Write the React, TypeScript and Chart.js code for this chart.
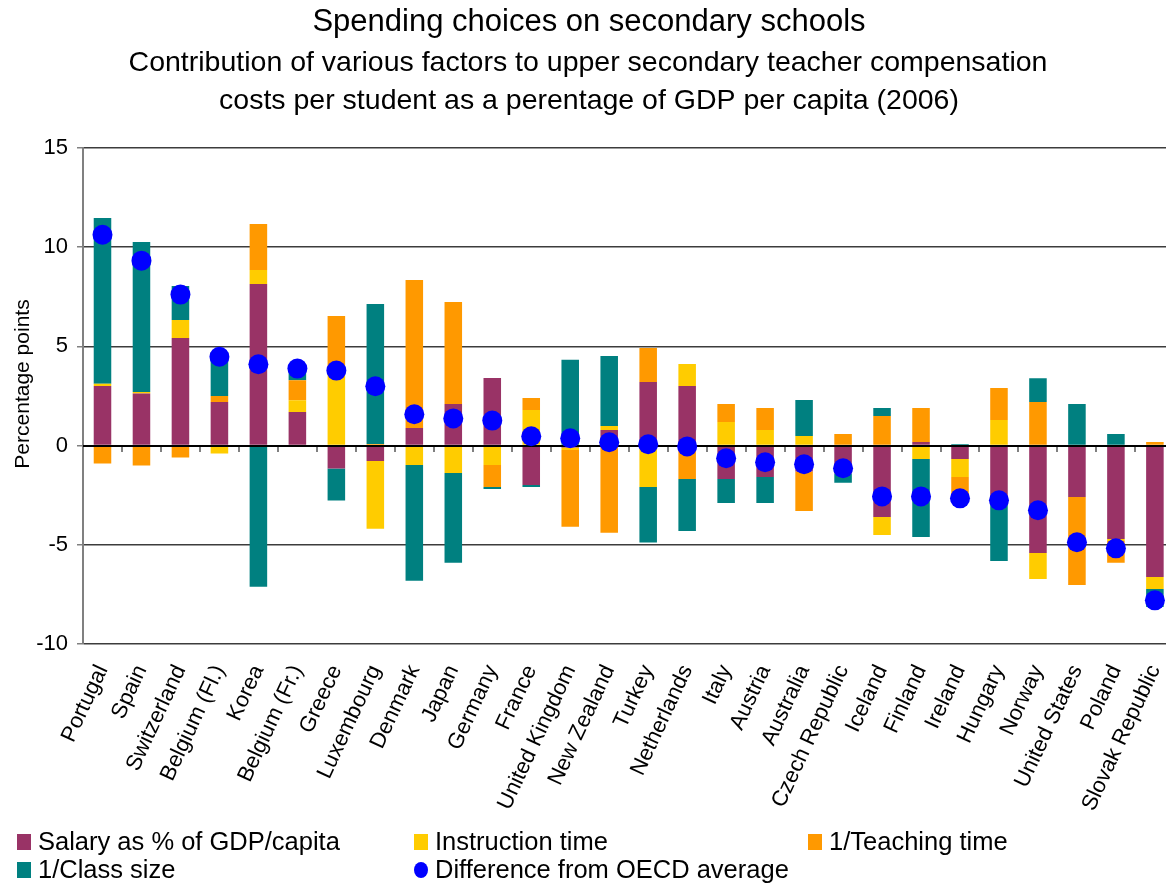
import React, { useEffect, useRef } from 'react';
import { Chart, registerables } from 'chart.js';

Chart.register(...registerables);

const countries = [
  'Portugal', 'Spain', 'Switzerland', 'Belgium (Fl.)', 'Korea', 'Belgium (Fr.)', 'Greece',
  'Luxembourg', 'Denmark', 'Japan', 'Germany', 'France', 'United Kingdom', 'New Zealand',
  'Turkey', 'Netherlands', 'Italy', 'Austria', 'Australia', 'Czech Republic', 'Iceland',
  'Finland', 'Ireland', 'Hungary', 'Norway', 'United States', 'Poland', 'Slovak Republic',
];

const salary = [3.0, 2.62, 5.42, 2.2, 8.14, 1.69, -1.16, -0.78, 0.89, 2.1, 3.41, -1.99, -0.1, 0.79, 3.21, 3.0, -1.68, -1.58, -1.3, -1.4, -3.6, 0.18, -0.68, -2.74, -5.41, -2.59, -4.71, -6.62];
const instruction = [0.12, 0.08, 0.91, -0.4, 0.71, 0.6, 3.65, -3.41, -0.98, -1.38, -0.98, 1.8, -0.12, 0.2, -2.09, 1.11, 1.19, 0.79, 0.48, 0, -0.91, -0.68, -0.9, 1.29, -1.31, 0, -0.1, -0.61];
const teaching = [-0.9, -1.0, -0.6, 0.3, 2.32, 1.0, 2.88, 0.08, 7.46, 5.14, -1.11, 0.6, -3.87, -4.39, 1.71, -1.68, 0.91, 1.11, -2.0, 0.58, 1.49, 1.72, -0.9, 1.61, 2.2, -4.43, -1.1, 0.18];
const classSize = [8.35, 7.56, 1.71, 2.2, -7.11, 0.6, -1.61, 7.06, -5.83, -4.52, -0.1, -0.1, 4.33, 3.53, -2.8, -2.62, -1.21, -1.31, 1.82, -0.47, 0.41, -3.93, 0.08, -3.08, 1.2, 2.1, 0.58, -0.9];
const difference = [10.63, 9.32, 7.61, 4.48, 4.1, 3.88, 3.78, 2.99, 1.58, 1.37, 1.26, 0.47, 0.37, 0.17, 0.07, -0.04, -0.64, -0.84, -0.94, -1.14, -2.56, -2.56, -2.66, -2.76, -3.26, -4.87, -5.18, -7.8];

const seriesNames = [
  'Salary as % of GDP/capita',
  'Instruction time',
  '1/Teaching time',
  '1/Class size',
  'Difference from OECD average',
];
const seriesColors = ['#993366', '#FFCC00', '#FF9900', '#008080', '#0000FF'];

const yMin = -10;
const yMax = 15;
const yStep = 5;

const titleText = 'Spending choices on secondary schools';
const subtitleLines = [
  'Contribution of various factors to upper secondary teacher compensation',
  'costs per student as a perentage of GDP per capita (2006)',
];
const yAxisTitle = 'Percentage points';

const FONT = '"Liberation Sans", Arial, Helvetica, sans-serif';

const decorPlugin = {
  id: 'decor',
  afterDatasetDraw(chart: any, args: any) {
    if (args.index !== 0) return;
    const { ctx, chartArea, scales } = chart;
    const y0 = Math.round(scales.y.getPixelForValue(0));
    const n = countries.length;
    const w = (chartArea.right - chartArea.left) / n;
    ctx.save();
    ctx.strokeStyle = '#808080';
    ctx.lineWidth = 2;
    for (let i = 0; i <= n; i++) {
      const x = Math.round(chartArea.left + i * w);
      ctx.beginPath();
      ctx.moveTo(x, y0);
      ctx.lineTo(x, y0 + 6);
      ctx.stroke();
    }
    ctx.strokeStyle = '#000000';
    ctx.lineWidth = 2;
    ctx.beginPath();
    ctx.moveTo(chartArea.left, y0);
    ctx.lineTo(chartArea.right, y0);
    ctx.stroke();
    ctx.restore();
  },
  afterDraw(chart: any) {
    const { ctx } = chart;
    const cx = 585;
    ctx.save();
    ctx.fillStyle = '#000000';
    ctx.textAlign = 'center';
    ctx.textBaseline = 'middle';
    ctx.font = `31px ${FONT}`;
    ctx.fillText(titleText, 589, 22);
    ctx.font = `28.5px ${FONT}`;
    ctx.fillText(subtitleLines[0], 588, 63);
    ctx.fillText(subtitleLines[1], 589, 101);

    // y axis title
    ctx.save();
    ctx.translate(23, 384);
    ctx.rotate(-Math.PI / 2);
    ctx.font = `21px ${FONT}`;
    ctx.fillText(yAxisTitle, 0, 0);
    ctx.restore();

    // legend
    const cols = [17, 414, 808];
    const rows = [842, 870];
    const pos = [
      [cols[0], rows[0]],
      [cols[1], rows[0]],
      [cols[2], rows[0]],
      [cols[0], rows[1]],
      [cols[1], rows[1]],
    ];
    ctx.font = `25.5px ${FONT}`;
    ctx.textAlign = 'left';
    for (let i = 0; i < seriesNames.length; i++) {
      const [x, y] = pos[i];
      ctx.fillStyle = seriesColors[i];
      if (i === 4) {
        ctx.beginPath();
        ctx.ellipse(x + 7, y, 7, 8, 0, 0, Math.PI * 2);
        ctx.fill();
      } else {
        ctx.fillRect(x, y - 8, 14, 16);
      }
      ctx.fillStyle = '#000000';
      ctx.fillText(seriesNames[i], x + 21, y + 1);
    }
    ctx.restore();
    void cx;
  },
};

export default function App() {
  const canvasRef = useRef<HTMLCanvasElement | null>(null);

  useEffect(() => {
    document.body.style.margin = '0';
    document.body.style.overflow = 'hidden';
    const canvas = canvasRef.current;
    if (!canvas) return;

    const barSets = [salary, instruction, teaching, classSize].map((data, i) => ({
      type: 'bar' as const,
      label: seriesNames[i],
      data,
      backgroundColor: seriesColors[i],
      borderWidth: 0,
      barPercentage: 0.45,
      categoryPercentage: 1,
      order: 0,
    }));

    const chart = new Chart(canvas, {
      type: 'bar',
      data: {
        labels: countries,
        datasets: [
          ...barSets,
          {
            type: 'line' as const,
            label: seriesNames[4],
            data: difference,
            showLine: false,
            pointRadius: 10,
            pointHoverRadius: 10,
            pointBackgroundColor: seriesColors[4],
            pointBorderColor: seriesColors[4],
            pointBorderWidth: 0,
            stack: 'dots',
            order: -1,
          } as any,
        ],
      },
      options: {
        responsive: false,
        animation: false,
        events: [],
        layout: { padding: { top: 148, left: 0, right: 0, bottom: 0 } },
        plugins: {
          legend: { display: false },
          title: { display: false },
          tooltip: { enabled: false },
        },
        scales: {
          x: {
            stacked: true,
            offset: true,
            grid: { display: false, drawTicks: false },
            border: { display: false },
            ticks: {
              autoSkip: false,
              minRotation: 65,
              maxRotation: 65,
              padding: 17,
              color: '#000000',
              font: { family: FONT, size: 22 },
            },
            afterFit: (scale: any) => {
              scale.height = 240;
            },
          },
          y: {
            stacked: true,
            min: yMin,
            max: yMax,
            ticks: {
              stepSize: yStep,
              padding: 9,
              color: '#000000',
              font: { family: FONT, size: 22 },
            },
            grid: {
              color: (c: any) => (c.tick && c.tick.value === 0 ? 'rgba(0,0,0,0)' : '#3c3c3c'),
              lineWidth: 1.5,
              tickLength: 6,
              tickColor: '#808080',
              drawTicks: true,
            },
            border: { display: true, color: '#808080', width: 2 },
            title: { display: false },
            afterFit: (scale: any) => {
              scale.width = 83;
            },
          },
        },
      },
      plugins: [decorPlugin],
    });

    return () => {
      chart.destroy();
    };
  }, []);

  return (
    <div style={{ width: 1196, height: 884 }}>
      <canvas ref={canvasRef} width={1196} height={884} style={{ display: 'block' }} />
    </div>
  );
}
